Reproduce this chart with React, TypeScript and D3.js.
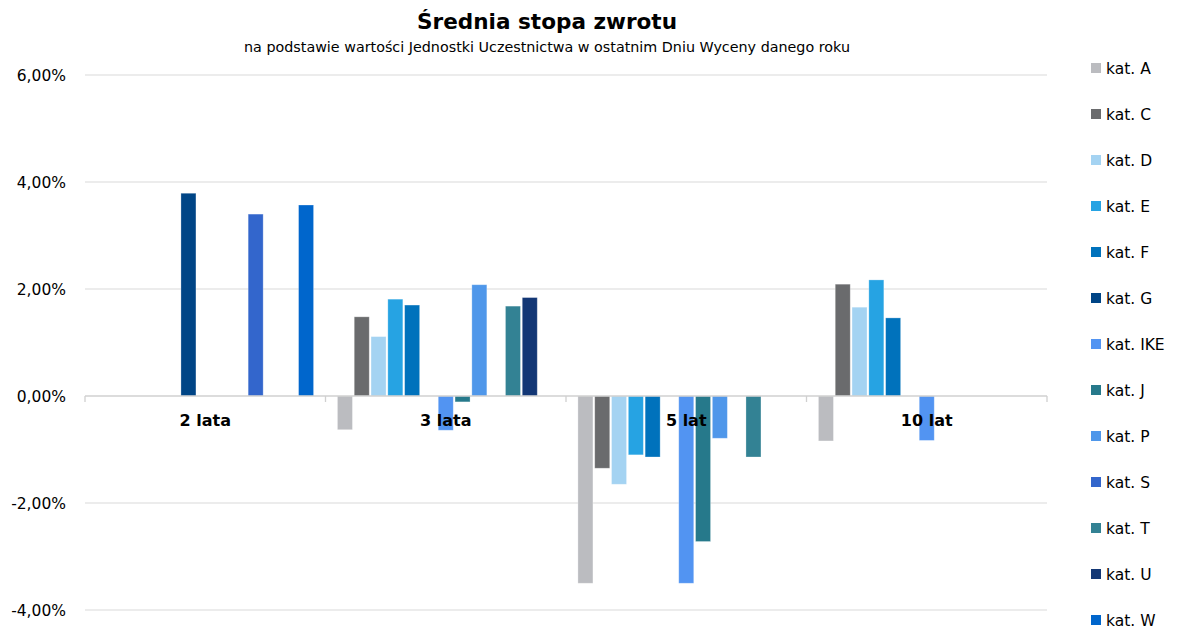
import React, { useRef, useEffect } from 'react';
import * as d3 from 'd3';

const categories = ['2 lata', '3 lata', '5 lat', '10 lat'];
const seriesNames = ['kat. A', 'kat. C', 'kat. D', 'kat. E', 'kat. F', 'kat. G', 'kat. IKE', 'kat. J', 'kat. P', 'kat. S', 'kat. T', 'kat. U', 'kat. W'];
const seriesColors = ['#BBBCC0', '#6A6B6D', '#A4D3F2', '#26A3E3', '#0072BC', '#004586', '#5294F2', '#26798B', '#4F97EA', '#3366CC', '#338294', '#133775', '#0066CC'];

// values in %, one array per series (order of categories), null = no bar
const katA = [null, -0.63, -3.5, -0.84];
const katC = [null, 1.48, -1.35, 2.09];
const katD = [null, 1.11, -1.65, 1.66];
const katE = [null, 1.81, -1.1, 2.17];
const katF = [null, 1.7, -1.14, 1.46];
const katG = [3.79, null, null, null];
const katIKE = [null, -0.64, -3.5, -0.83];
const katJ = [null, -0.11, -2.72, null];
const katP = [null, 2.08, -0.79, null];
const katS = [3.4, null, null, null];
const katT = [null, 1.68, -1.14, null];
const katU = [null, 1.84, null, null];
const katW = [3.57, null, null, null];

const seriesValues = [katA, katC, katD, katE, katF, katG, katIKE, katJ, katP, katS, katT, katU, katW];
const yTicks = [-4, -2, 0, 2, 4, 6];

const App: React.FC = () => {
  const svgRef = useRef<SVGSVGElement>(null);

  useEffect(() => {
    if (!svgRef.current) return;
    const svg = d3.select(svgRef.current);
    svg.selectAll('*').remove();

    const left = 85, right = 1047, top = 75, bottom = 610;
    const font = '"DejaVu Sans", Verdana, sans-serif';

    const x0 = d3.scaleBand<string>().domain(categories).range([left, right]);
    const x1 = d3.scaleBand<string>()
      .domain(seriesNames)
      .range([0, x0.bandwidth()])
      .paddingInner(0.107)
      .paddingOuter(0.71);
    const y = d3.scaleLinear().domain([-4, 6]).range([bottom, top]);

    // gridlines
    svg.append('g')
      .selectAll('line')
      .data(yTicks.filter(t => t !== 0))
      .enter()
      .append('line')
      .attr('x1', left)
      .attr('x2', right)
      .attr('y1', d => y(d))
      .attr('y2', d => y(d))
      .attr('stroke', '#D9D9D9')
      .attr('stroke-width', 1);

    // y labels
    svg.append('g')
      .selectAll('text')
      .data(yTicks)
      .enter()
      .append('text')
      .attr('x', 66)
      .attr('y', d => y(d) + 6)
      .attr('text-anchor', 'end')
      .style('font-family', font)
      .style('font-size', '15.5px')
      .style('fill', '#000')
      .text(d => d3.format('.2f')(d).replace('.', ',').replace('−', '-') + '%');

    // bars
    const groups = svg.append('g');
    seriesNames.forEach((name, si) => {
      groups.append('g')
        .selectAll('rect')
        .data(seriesValues[si].map((v, ci) => ({ v, c: categories[ci] })).filter(d => d.v !== null))
        .enter()
        .append('rect')
        .attr('x', d => (x0(d.c) || 0) + (x1(name) || 0))
        .attr('width', x1.bandwidth())
        .attr('y', d => y(Math.max(0, d.v as number)))
        .attr('height', d => Math.abs(y(d.v as number) - y(0)))
        .attr('fill', seriesColors[si])
        .attr('stroke', '#ffffff')
        .attr('stroke-opacity', 0.35)
        .attr('stroke-width', 0.8);
    });

    // zero axis + ticks
    svg.append('line')
      .attr('x1', left)
      .attr('x2', right)
      .attr('y1', y(0))
      .attr('y2', y(0))
      .attr('stroke', '#D0D0D0')
      .attr('stroke-width', 1.3);

    const tickPos = categories.map(c => x0(c) || 0).concat([right]);
    svg.append('g')
      .selectAll('line')
      .data(tickPos)
      .enter()
      .append('line')
      .attr('x1', d => d)
      .attr('x2', d => d)
      .attr('y1', y(0))
      .attr('y2', y(0) + 6)
      .attr('stroke', '#D0D0D0')
      .attr('stroke-width', 1.3);

    // category labels
    svg.append('g')
      .selectAll('text')
      .data(categories)
      .enter()
      .append('text')
      .attr('x', d => (x0(d) || 0) + x0.bandwidth() / 2)
      .attr('y', y(0) + 30)
      .attr('text-anchor', 'middle')
      .style('font-family', font)
      .style('font-size', '16px')
      .style('font-weight', 'bold')
      .style('fill', '#000')
      .text(d => d);

    // title
    svg.append('text')
      .attr('x', 547)
      .attr('y', 29)
      .attr('text-anchor', 'middle')
      .attr('textLength', 260)
      .attr('lengthAdjust', 'spacingAndGlyphs')
      .style('font-family', font)
      .style('font-size', '22px')
      .style('font-weight', 'bold')
      .style('fill', '#000')
      .text('Średnia stopa zwrotu');

    svg.append('text')
      .attr('x', 547)
      .attr('y', 52)
      .attr('text-anchor', 'middle')
      .attr('textLength', 606)
      .attr('lengthAdjust', 'spacingAndGlyphs')
      .style('font-family', font)
      .style('font-size', '14px')
      .style('fill', '#000')
      .text('na podstawie wartości Jednostki Uczestnictwa w ostatnim Dniu Wyceny danego roku');

    // legend
    const legend = svg.append('g');
    seriesNames.forEach((name, i) => {
      const ly = 68 + i * 46;
      legend.append('rect')
        .attr('x', 1091)
        .attr('y', ly - 5)
        .attr('width', 10)
        .attr('height', 10)
        .attr('fill', seriesColors[i]);
      legend.append('text')
        .attr('x', 1106)
        .attr('y', ly + 5.5)
        .style('font-family', font)
        .style('font-size', '15.5px')
        .style('fill', '#000')
        .text(name);
    });
  }, []);

  return (
    <svg
      ref={svgRef}
      width={1180}
      height={629}
      style={{ position: 'absolute', left: 0, top: 0, background: '#fff' }}
    />
  );
};

export default App;
